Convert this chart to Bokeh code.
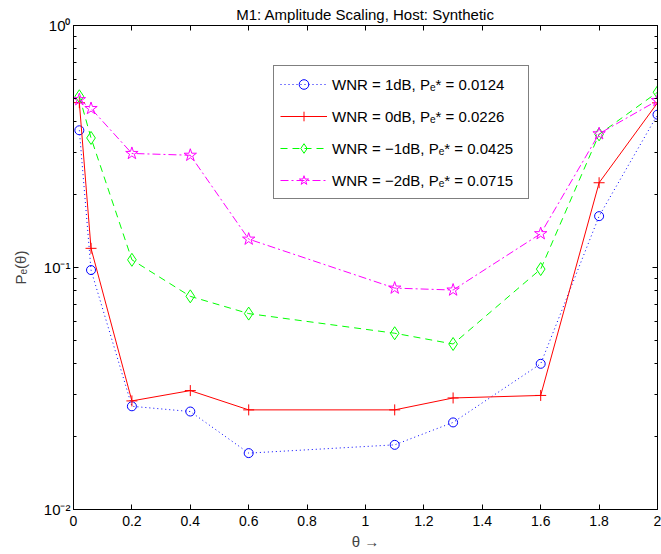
from bokeh.plotting import figure
from bokeh.models import (LinearAxis, LogAxis, FixedTicker,
                          CustomJSTickFormatter, Legend, LegendItem, Range1d)
from bokeh.embed import file_html
from bokeh.resources import INLINE

# ---------------- data ----------------
theta = [0.02, 0.06, 0.2, 0.4, 0.6, 1.1, 1.3, 1.6, 1.8, 2.0]
pe_wnr_1db = [0.369, 0.0976, 0.0267, 0.0254, 0.0171, 0.0185, 0.0229, 0.040, 0.163, 0.428]
pe_wnr_0db = [0.48, 0.120, 0.0281, 0.0310, 0.0258, 0.0258, 0.0289, 0.0296, 0.224, 0.479]
pe_wnr_m1db = [0.510, 0.343, 0.1076, 0.076, 0.0645, 0.0535, 0.0483, 0.0985, 0.355, 0.530]
pe_wnr_m2db = [0.494, 0.454, 0.296, 0.291, 0.131, 0.0822, 0.0807, 0.138, 0.357, 0.490]
series_labels = [
    "WNR = 1dB, P\u2091* = 0.0124",
    "WNR = 0dB, P\u2091* = 0.0226",
    "WNR = \u22121dB, P\u2091* = 0.0425",
    "WNR = \u22122dB, P\u2091* = 0.0715",
]
x_ticks = [0, 0.2, 0.4, 0.6, 0.8, 1.0, 1.2, 1.4, 1.6, 1.8, 2.0]
y_major_ticks = [0.01, 0.1, 1.0]
y_minor_ticks = [0.02, 0.03, 0.04, 0.05, 0.06, 0.07, 0.08, 0.09,
                 0.2, 0.3, 0.4, 0.5, 0.6, 0.7, 0.8, 0.9]
title_text = "M1: Amplitude Scaling, Host: Synthetic"
x_label = "\u03b8 \u2192"
y_label = "P\u2091(\u03b8)"

FONT = "Liberation Sans"

p = figure(width=661, height=554, output_backend="svg", toolbar_location=None,
           x_range=Range1d(0, 2), y_range=Range1d(0.01, 1), y_axis_type="log",
           min_border_left=73, min_border_right=4, min_border_top=24,
           min_border_bottom=45, title=title_text)
p.title.align = "center"
p.title.text_font = FONT
p.title.text_font_size = "15px"
p.title.text_font_style = "normal"
p.title.text_color = "black"
p.title.standoff = 6
p.xgrid.visible = False
p.ygrid.visible = False
p.outline_line_color = "black"
p.outline_line_width = 1
p.background_fill_color = "white"
p.border_fill_color = "white"

xfmt = CustomJSTickFormatter(code="return String(parseFloat(tick.toFixed(1)));")
yfmt = CustomJSTickFormatter(code="""
const e = Math.round(Math.log10(tick));
const sup = {"0":"\u2070","1":"\u00b9","2":"\u00b2","3":"\u00b3","-":"\u207b"};
return "10" + String(e).split("").map(c => sup[c]).join("");
""")
blank = CustomJSTickFormatter(code="return '';")

def style_x(ax, labels=True):
    ax.ticker = FixedTicker(ticks=x_ticks)
    ax.formatter = xfmt if labels else blank
    ax.major_tick_in = 5
    ax.major_tick_out = 0
    ax.minor_tick_line_color = None
    ax.axis_line_color = "black"
    ax.major_tick_line_color = "black"
    ax.major_label_text_font = FONT
    ax.major_label_text_font_size = "14px" if labels else "1px"
    ax.major_label_text_color = "black" if labels else None
    ax.major_label_standoff = 6 if labels else 0

def style_y(ax, labels=True):
    ax.ticker = FixedTicker(ticks=y_major_ticks, minor_ticks=y_minor_ticks)
    ax.formatter = yfmt if labels else blank
    ax.major_tick_in = 5
    ax.major_tick_out = 0
    ax.minor_tick_in = 3
    ax.minor_tick_out = 0
    ax.axis_line_color = "black"
    ax.major_tick_line_color = "black"
    ax.minor_tick_line_color = "black"
    ax.major_label_text_font = FONT
    ax.major_label_text_font_size = "15px" if labels else "1px"
    ax.major_label_text_color = "black" if labels else None
    ax.major_label_standoff = 3 if labels else 0

style_x(p.xaxis[0])
style_y(p.yaxis[0])
p.xaxis[0].axis_label = x_label
p.xaxis[0].axis_label_text_font = FONT
p.xaxis[0].axis_label_text_font_size = "15px"
p.xaxis[0].axis_label_text_font_style = "normal"
p.xaxis[0].axis_label_standoff = 4
p.yaxis[0].axis_label = y_label
p.yaxis[0].axis_label_text_font = FONT
p.yaxis[0].axis_label_text_font_size = "15px"
p.yaxis[0].axis_label_text_font_style = "normal"
p.yaxis[0].axis_label_standoff = 12

top_ax = LinearAxis()
style_x(top_ax, labels=False)
p.add_layout(top_ax, "above")
right_ax = LogAxis()
style_y(right_ax, labels=False)
p.add_layout(right_ax, "right")

styles = [
    dict(data=pe_wnr_1db, color="#0000ff", dash="1 3", marker="circle", size=9),
    dict(data=pe_wnr_0db, color="#ff0000", dash="solid", marker="cross", size=11),
    dict(data=pe_wnr_m1db, color="#00ff00", dash="7 5", marker="diamond", size=13),
    dict(data=pe_wnr_m2db, color="#ff00ff", dash="8 3 2 3", marker="star", size=13),
]

items = []
for st, lab in zip(styles, series_labels):
    lr = p.line(theta, st["data"], line_color=st["color"], line_width=1,
                line_dash=st["dash"])
    sr = p.scatter(theta, st["data"], marker=st["marker"], size=st["size"],
                   line_color=st["color"], fill_color=None, line_width=1)
    items.append(LegendItem(label=lab, renderers=[lr, sr]))

legend = Legend(items=items, location=(200, 310), orientation="vertical",
                label_text_font=FONT, label_text_font_size="15px",
                label_text_color="black", label_standoff=5, label_height=20,
                label_width=190,
                glyph_width=47, glyph_height=24, spacing=8, padding=6, margin=0,
                border_line_color="black", border_line_width=1,
                background_fill_color="white", background_fill_alpha=1)
p.add_layout(legend, "center")

open("out.html", "w").write(file_html(p, INLINE))
